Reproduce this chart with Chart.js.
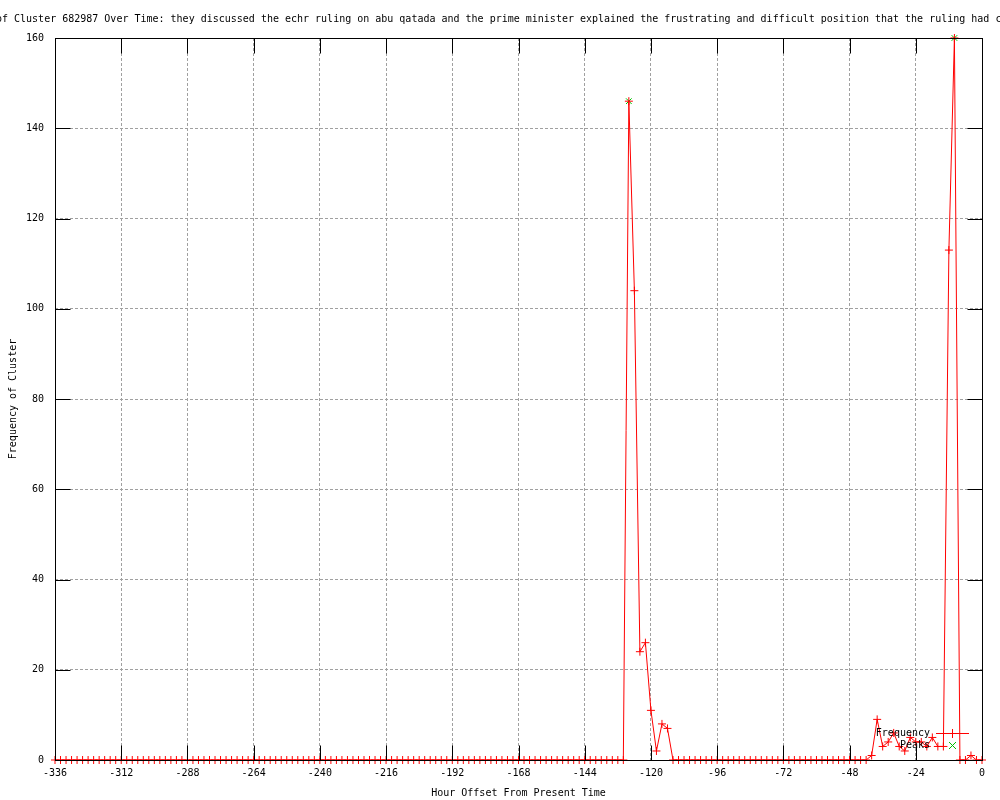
<!DOCTYPE html>
<html lang="en">
<head>
<meta charset="UTF-8">
<script src="https://cdn.jsdelivr.net/npm/chart.js"></script>
<title>Frequency of Cluster 682987 Over Time</title>
<style>
  html, body { margin: 0; padding: 0; background: #fff; }
</style>
</head>
<body>
<canvas id="clusterChart" width="1000" height="800"></canvas>
<script>
// hour offsets (every 2 hours) and cluster frequency
const hours = [
  -336,-334,-332,-330,-328,-326,-324,-322,-320,-318,-316,-314,
  -312,-310,-308,-306,-304,-302,-300,-298,-296,-294,-292,-290,
  -288,-286,-284,-282,-280,-278,-276,-274,-272,-270,-268,-266,
  -264,-262,-260,-258,-256,-254,-252,-250,-248,-246,-244,-242,
  -240,-238,-236,-234,-232,-230,-228,-226,-224,-222,-220,-218,
  -216,-214,-212,-210,-208,-206,-204,-202,-200,-198,-196,-194,
  -192,-190,-188,-186,-184,-182,-180,-178,-176,-174,-172,-170,
  -168,-166,-164,-162,-160,-158,-156,-154,-152,-150,-148,-146,
  -144,-142,-140,-138,-136,-134,-132,-130,-128,-126,-124,-122,
  -120,-118,-116,-114,-112,-110,-108,-106,-104,-102,-100,-98,
  -96,-94,-92,-90,-88,-86,-84,-82,-80,-78,-76,-74,
  -72,-70,-68,-66,-64,-62,-60,-58,-56,-54,-52,-50,
  -48,-46,-44,-42,-40,-38,-36,-34,-32,-30,-28,-26,
  -24,-22,-20,-18,-16,-14,-12,-10,-8,-6,-4,-2,
  0
];
const frequency = [
  0,0,0,0,0,0,0,0,0,0,0,0,
  0,0,0,0,0,0,0,0,0,0,0,0,
  0,0,0,0,0,0,0,0,0,0,0,0,
  0,0,0,0,0,0,0,0,0,0,0,0,
  0,0,0,0,0,0,0,0,0,0,0,0,
  0,0,0,0,0,0,0,0,0,0,0,0,
  0,0,0,0,0,0,0,0,0,0,0,0,
  0,0,0,0,0,0,0,0,0,0,0,0,
  0,0,0,0,0,0,0,0,146,104,24,26,
  11,2,8,7,0,0,0,0,0,0,0,0,
  0,0,0,0,0,0,0,0,0,0,0,0,
  0,0,0,0,0,0,0,0,0,0,0,0,
  0,0,0,0,1,9,3,4,6,3,2,5,
  4,4,3,5,3,3,113,160,0,0,1,0,
  0
];
const peakHours = [-128, -10];
const peakValues = [146, 160];

const xTicks = [-336, -312, -288, -264, -240, -216, -192, -168, -144, -120, -96, -72, -48, -24, 0];
const yTicks = [0, 20, 40, 60, 80, 100, 120, 140, 160];

const titleText = 'Frequency of Cluster 682987 Over Time: they discussed the echr ruling on abu qatada and the prime minister explained the frustrating and difficult position that the ruling had created';
const mono = "'DejaVu Sans Mono', 'Liberation Mono', monospace";

// gnuplot-like frame, inner tics, key and title
const gnuplotLook = {
  id: 'gnuplotLook',
  afterDatasetsDraw(chart) {
    const { ctx, chartArea: a, scales: { x, y } } = chart;
    const L = Math.round(a.left) + 0.5, R = Math.round(a.right) + 0.5;
    const T = Math.round(a.top) + 0.5, B = Math.round(a.bottom) + 0.5;
    ctx.save();
    ctx.strokeStyle = '#000';
    ctx.lineWidth = 1;
    ctx.beginPath();
    xTicks.forEach(v => {
      const px = Math.round(x.getPixelForValue(v)) + 0.5;
      ctx.moveTo(px, B); ctx.lineTo(px, B - 15);
      ctx.moveTo(px, T); ctx.lineTo(px, T + 15);
    });
    yTicks.forEach(v => {
      const py = Math.round(y.getPixelForValue(v)) + 0.5;
      ctx.moveTo(L, py); ctx.lineTo(L + 15, py);
      ctx.moveTo(R, py); ctx.lineTo(R - 15, py);
    });
    ctx.stroke();
    ctx.strokeRect(L, T, R - L, B - T);

    // key, bottom right inside the plot
    const r = Math.round(a.right), b = Math.round(a.bottom);
    const row1 = b - 27, row2 = b - 15;
    ctx.font = '10px ' + mono;
    ctx.fillStyle = '#000';
    ctx.textAlign = 'right';
    ctx.textBaseline = 'middle';
    ctx.fillText('Frequency', r - 52, row1);
    ctx.fillText('Peaks', r - 52, row2);
    const mx = r - 29.5;
    ctx.strokeStyle = '#ff0000';
    ctx.beginPath();
    ctx.moveTo(r - 46, row1 + 0.5); ctx.lineTo(r - 13, row1 + 0.5);
    ctx.moveTo(mx, row1 - 4); ctx.lineTo(mx, row1 + 5);
    ctx.stroke();
    ctx.strokeStyle = '#00c000';
    ctx.beginPath();
    ctx.moveTo(mx - 3.5, row2 - 3); ctx.lineTo(mx + 3.5, row2 + 4);
    ctx.moveTo(mx + 3.5, row2 - 3); ctx.lineTo(mx - 3.5, row2 + 4);
    ctx.stroke();

    // long title, centred and running off both edges
    ctx.textAlign = 'left';
    const lead = ctx.measureText('Frequency o').width;
    ctx.fillText(titleText, 2 - lead, 19);
    ctx.restore();
  }
};

const ctx = document.getElementById('clusterChart').getContext('2d');
new Chart(ctx, {
  type: 'line',
  plugins: [gnuplotLook],
  data: {
    datasets: [
      {
        label: 'Frequency',
        data: hours.map((h, i) => ({ x: h, y: frequency[i] })),
        borderColor: '#ff0000',
        backgroundColor: '#ff0000',
        borderWidth: 1,
        tension: 0,
        pointStyle: 'cross',
        pointRadius: 4,
        pointBorderWidth: 1,
        pointBorderColor: '#ff0000',
        clip: false
      },
      {
        label: 'Peaks',
        data: peakHours.map((h, i) => ({ x: h, y: peakValues[i] })),
        showLine: false,
        pointStyle: 'crossRot',
        pointRadius: 4,
        pointBorderWidth: 1,
        pointBorderColor: '#00c000',
        backgroundColor: '#00c000',
        clip: false
      }
    ]
  },
  options: {
    responsive: false,
    animation: false,
    layout: { padding: { top: 38, right: 18, bottom: 0, left: 0 } },
    plugins: {
      legend: { display: false },
      title: { display: false },
      tooltip: { enabled: false }
    },
    scales: {
      x: {
        type: 'linear',
        min: -336,
        max: 0,
        afterBuildTicks: s => { s.ticks = xTicks.map(v => ({ value: v })); },
        afterFit: s => { s.height = 40; },
        grid: { color: '#a0a0a0', lineWidth: 1, drawTicks: false },
        border: { display: false, dash: [3, 2] },
        ticks: { color: '#000', font: { family: mono, size: 10 }, padding: 7, maxRotation: 0, autoSkip: false },
        title: {
          display: true,
          text: 'Hour Offset From Present Time',
          color: '#000',
          font: { family: mono, size: 10 },
          padding: { top: 0, bottom: 1 }
        }
      },
      y: {
        min: 0,
        max: 160,
        afterBuildTicks: s => { s.ticks = yTicks.map(v => ({ value: v })); },
        afterFit: s => { s.width = 55; },
        grid: { color: '#a0a0a0', lineWidth: 1, drawTicks: false },
        border: { display: false, dash: [3, 2] },
        ticks: { color: '#000', font: { family: mono, size: 10 }, padding: 11 },
        title: {
          display: true,
          text: 'Frequency of Cluster',
          color: '#000',
          font: { family: mono, size: 10 },
          padding: { top: 7, bottom: 0 }
        }
      }
    }
  }
});
</script>
</body>
</html>
